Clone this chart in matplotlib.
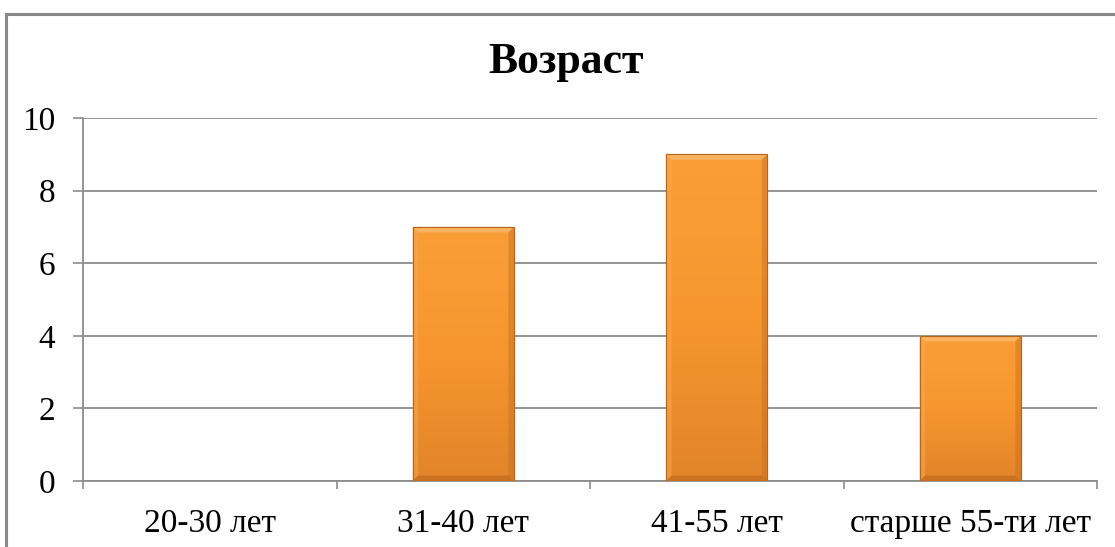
import matplotlib.pyplot as plt
import numpy as np
from matplotlib.patches import Rectangle, Polygon
from matplotlib.colors import LinearSegmentedColormap

# Данные диаграммы
categories = ['20-30 лет', '31-40 лет', '41-55 лет', 'старше 55-ти лет']
values = [0, 7, 9, 4]
chart_title = 'Возраст'

plt.rcParams['font.family'] = ['Liberation Serif', 'DejaVu Serif']

W, H = 1115, 547
fig = plt.figure(figsize=(W / 100, H / 100), dpi=100)
ax = fig.add_axes([83 / W, (H - 481) / H, (1097 - 83) / W, (481 - 118) / H])

grid_color = '#8c8c8c'
bar_width = 0.4
x = np.arange(len(categories))

bars = ax.bar(x, values, width=bar_width, color='#F39430', edgecolor='#B5661E',
              linewidth=0.8, zorder=3)

# Градиент на столбцах
orange = LinearSegmentedColormap.from_list('orange', ['#E2842A', '#F7962F', '#FB9E38'])
grad = np.linspace(0, 1, 256).reshape(-1, 1)
for rect in bars:
    x0, w, h = rect.get_x(), rect.get_width(), rect.get_height()
    if h <= 0:
        continue
    im = ax.imshow(grad, cmap=orange, origin='lower', aspect='auto',
                   extent=[x0, x0 + w, 0, h], zorder=3.1)
    im.set_clip_path(rect)
    # фаска
    dx, dy = 0.022, 0.15
    ax.add_patch(Polygon([[x0, h], [x0 + w, h], [x0 + w - dx, h - dy], [x0 + dx, h - dy]],
                         closed=True, fc='#FDC27E', ec='none', alpha=0.6, zorder=3.2))
    ax.add_patch(Polygon([[x0, 0], [x0, h], [x0 + dx, h - dy], [x0 + dx, dy]],
                         closed=True, fc='#F8A850', ec='none', alpha=0.5, zorder=3.2))
    ax.add_patch(Polygon([[x0 + w, 0], [x0 + w, h], [x0 + w - dx, h - dy], [x0 + w - dx, dy]],
                         closed=True, fc='#C46E1F', ec='none', alpha=0.45, zorder=3.2))
    ax.add_patch(Polygon([[x0, 0], [x0 + w, 0], [x0 + w - dx, dy], [x0 + dx, dy]],
                         closed=True, fc='#B5601A', ec='none', alpha=0.5, zorder=3.2))
    ax.add_patch(Rectangle((x0, 0), w, h, fill=False, ec='#B5661E', lw=0.8, zorder=3.3))

ax.set_xlim(-0.5, len(categories) - 0.5)
ax.set_ylim(0, 10)
ax.set_yticks(np.arange(0, 11, 2))
ax.set_xticks(x)
ax.set_xticklabels(categories, fontsize=24)
ax.set_xticks(np.arange(-0.5, len(categories), 1), minor=True)
ax.tick_params(axis='x', which='major', length=0, pad=20)
ax.tick_params(axis='x', which='minor', length=6, width=1.2, color=grid_color, direction='out')
ax.tick_params(axis='y', length=7, width=1.2, color=grid_color, pad=13, labelsize=24)

ax.yaxis.grid(True, color=grid_color, linewidth=1.3, zorder=0)
ax.set_axisbelow(True)
for side in ['top', 'right']:
    ax.spines[side].set_visible(False)
for side in ['left', 'bottom']:
    ax.spines[side].set_color(grid_color)
    ax.spines[side].set_linewidth(1.3)

fig.text(566 / W, (H - 62) / H, chart_title, ha='center', va='center',
         fontsize=31.5, fontweight='bold')

# рамка диаграммы
fig.patches.append(Rectangle((6 / W, -0.1), 1.2, (H - 14) / H + 0.1, transform=fig.transFigure,
                             fill=False, ec='#8a8a8a', lw=2.2))

plt.savefig('out.png', dpi=100)
